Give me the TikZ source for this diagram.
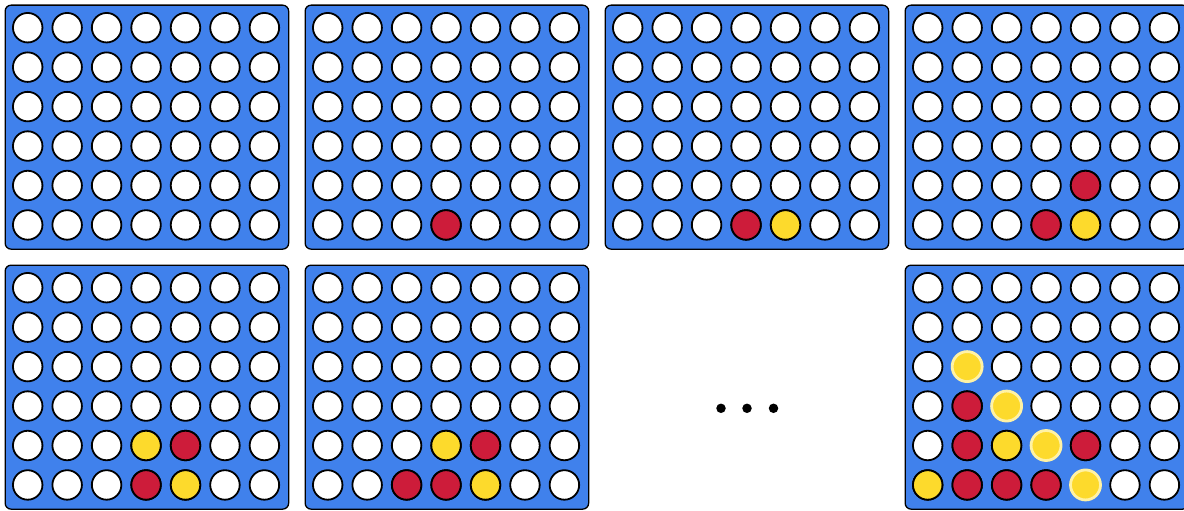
\documentclass[tikz,border=0pt]{standalone}
\definecolor{boardblue}{RGB}{64,129,236}
\definecolor{piecered}{RGB}{205,28,58}
\definecolor{pieceyellow}{RGB}{253,218,44}
\definecolor{winedge}{RGB}{255,242,165}
\tikzset{
  board/.style={draw=black, line width=1.3pt, fill=boardblue, rounded corners=6pt,
    minimum width=283.5pt, minimum height=244pt, inner sep=0pt, anchor=north west, rectangle},
  hole/.style={circle, draw=black, line width=1.8pt, fill=white, minimum size=29.5pt, inner sep=0pt},
  redpiece/.style={hole, fill=piecered},
  yellowpiece/.style={hole, fill=pieceyellow},
  winpiece/.style={circle, draw=winedge, line width=2.8pt, fill=pieceyellow, minimum size=30pt, inner sep=0pt},
  dot/.style={circle, fill=black, minimum size=9.5pt, inner sep=0pt}
}
\begin{document}
\begin{tikzpicture}[x=1pt,y=-1pt]
\useasboundingbox (0,0) rectangle (1184,511);
\clip (0,0) rectangle (1184,511);
% boards with holes
\foreach \bx/\by/\bn in {4/4/1, 304/4/2, 604/4/3, 904/4/4, 4/264/5, 304/264/6, 904/264/8} {
  \node[board] (b\bn) at (\bx+0.5,\by+0.5) {};
  \foreach \c in {1,...,7} {
    \foreach \r in {1,...,6} {
      \node[hole] (b\bn-\c-\r) at (\bx+23.7+39.45*\c-39.45, \by+23.7+39.45*6-39.45*\r) {};
    }
  }
}
% pieces
\foreach \c/\r/\s in {4/1/redpiece}
  \node[\s] (p2-\c-\r) at (b2-\c-\r) {};
\foreach \c/\r/\s in {4/1/redpiece, 5/1/yellowpiece}
  \node[\s] (p3-\c-\r) at (b3-\c-\r) {};
\foreach \c/\r/\s in {4/1/redpiece, 5/1/yellowpiece, 5/2/redpiece}
  \node[\s] (p4-\c-\r) at (b4-\c-\r) {};
\foreach \c/\r/\s in {4/1/redpiece, 5/1/yellowpiece, 4/2/yellowpiece, 5/2/redpiece}
  \node[\s] (p5-\c-\r) at (b5-\c-\r) {};
\foreach \c/\r/\s in {3/1/redpiece, 4/1/redpiece, 5/1/yellowpiece, 4/2/yellowpiece, 5/2/redpiece}
  \node[\s] (p6-\c-\r) at (b6-\c-\r) {};
\foreach \c/\r/\s in {1/1/yellowpiece, 2/1/redpiece, 3/1/redpiece, 4/1/redpiece, 5/1/winpiece,
                      2/2/redpiece, 3/2/yellowpiece, 4/2/winpiece, 5/2/redpiece,
                      2/3/redpiece, 3/3/winpiece, 2/4/winpiece}
  \node[\s] (p8-\c-\r) at (b8-\c-\r) {};
% ellipsis
\node[dot] (d1) at (721,408.3) {};
\node[dot] (d2) at (747,408.3) {};
\node[dot] (d3) at (773.5,408.3) {};
\end{tikzpicture}
\end{document}
